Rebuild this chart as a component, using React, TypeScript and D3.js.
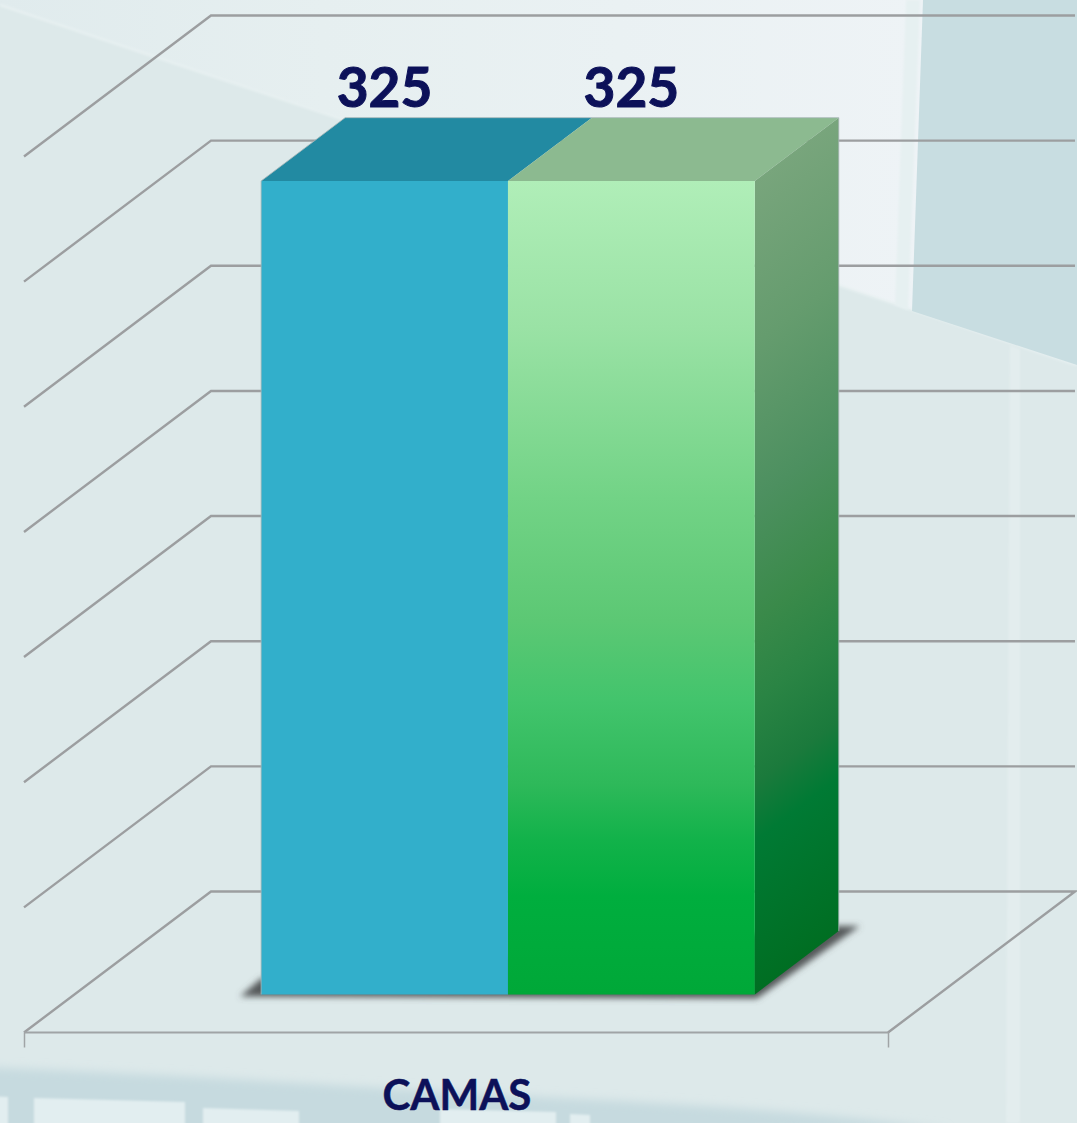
import React from "react";
import * as d3 from "d3";

const categories = ["CAMAS"];
const seriesNames = ["A", "B"];
const seriesValues = [325, 325];
const yTicks = [0, 50, 100, 150, 200, 250, 300, 350];

const width = 1077;
const height = 1123;

// floor corner (front left), the rest of the box hangs off it
const originX = 24;
const originY = 1032.5;
const floorWidth = 864;
const wallHeight = 876;
const depthX = 187;
const depthY = -141;
const barDepthStart = 0.27;
const barDepthEnd = 0.719;

const xCat = d3.scaleBand().domain(categories).range([0, floorWidth]);
const xSeries = d3
  .scaleBand()
  .domain(seriesNames)
  .range([0, xCat.bandwidth()])
  .paddingInner(0)
  .paddingOuter(0.75)
  .align(0.504);
const yScale = d3.scaleLinear().domain([0, 350]).range([0, wallHeight]);

// u along the floor, v is value, d is depth 0..1
const project = (u: number, v: number, d: number): [number, number] => [
  originX + u + d * depthX,
  originY - yScale(v) + d * depthY,
];
const line = d3.line();
const poly = (pts: [number, number][]) => line(pts) + "Z";

const frontStops = [
  [0, "#b0eeb8"],
  [0.18, "#9ae2a5"],
  [0.39, "#72d386"],
  [0.54, "#5cc874"],
  [0.64, "#42c46c"],
  [0.74, "#2eb95a"],
  [0.81, "#12b24a"],
  [0.88, "#00ae3e"],
  [1, "#00a838"],
];
const sideStops = [
  [0, "#78a57c"],
  [0.2, "#659c6e"],
  [0.39, "#4d9060"],
  [0.54, "#3a8a4a"],
  [0.64, "#2a8444"],
  [0.74, "#1b7a3c"],
  [0.81, "#007a34"],
  [1, "#006e22"],
];

// backdrop photo, roughly
const bgLight = "M0,5 L1077,365 L1077,0 L0,0Z";
const bgWindow = "M923,0 L1077,0 L1077,365 L912,311Z";
const bgBand = "M-20,1067 C200,1075 400,1090 600,1100 C750,1108 850,1116 950,1130 L-20,1140Z";
const bgPanes = [
  "M34,1098 L185,1102 L185,1130 L34,1130Z",
  "M203,1108 L299,1111 L299,1130 L203,1130Z",
  "M440,1109 L556,1112 L556,1130 L440,1130Z",
  "M570,1114 L590,1115 L590,1130 L570,1130Z",
  "M-10,1096 L8,1097 L8,1130 L-10,1130Z",
];

export default function App() {
  const wallLines = yTicks.map((t) => {
    const pts: [number, number][] = [
      project(0, t, 0),
      project(0, t, 1),
      project(floorWidth, t, 1),
    ];
    return line(t === 0 ? [pts[0], pts[1], pts[2], project(floorWidth, 0, 0)] : pts) as string;
  });

  const x0 = xCat(categories[0]) as number;
  const bars = seriesNames.map((s, i) => {
    const u0 = x0 + (xSeries(s) as number);
    const u1 = u0 + xSeries.bandwidth();
    const v = seriesValues[i];
    return {
      name: s,
      value: v,
      front: poly([
        project(u0, 0, barDepthStart),
        project(u1, 0, barDepthStart),
        project(u1, v, barDepthStart),
        project(u0, v, barDepthStart),
      ]),
      top: poly([
        project(u0, v, barDepthStart),
        project(u1, v, barDepthStart),
        project(u1, v, barDepthEnd),
        project(u0, v, barDepthEnd),
      ]),
      side: poly([
        project(u1, 0, barDepthStart),
        project(u1, 0, barDepthEnd),
        project(u1, v, barDepthEnd),
        project(u1, v, barDepthStart),
      ]),
      label: project((u0 + u1) / 2, v, barDepthStart),
    };
  });

  const firstU = x0 + (xSeries(seriesNames[0]) as number);
  const lastU = x0 + (xSeries(seriesNames[1]) as number) + xSeries.bandwidth();
  const topV = seriesValues[0];
  const [, frontTopY] = project(firstU, topV, barDepthStart);
  const [frontRight, frontBottomY] = project(lastU, 0, barDepthStart);

  // soft shadow on the floor under the block
  const backRight = project(lastU, 0, barDepthEnd);
  const shadow = poly([
    [project(firstU, 0, barDepthStart)[0] - 21, frontBottomY + 2],
    [frontRight + 2, frontBottomY + 4],
    [backRight[0] + 21, backRight[1] - 5],
    [backRight[0], backRight[1] - 5],
    [project(firstU, 0, barDepthStart)[0], frontBottomY - 16],
  ]);

  // thin pale edge round the block's outline
  const outline = line([
    project(firstU, 0, barDepthStart),
    project(firstU, topV, barDepthStart),
    project(firstU, topV, barDepthEnd),
    project(lastU, topV, barDepthEnd),
    project(lastU, 0, barDepthEnd),
  ]) as string;

  const tickY0 = originY;
  const tickY1 = originY + 15;

  return (
    <>
      <style>{`html,body{margin:0;padding:0;overflow:hidden}svg{display:block}`}</style>
      <svg width={width} height={height} viewBox={`0 0 ${width} ${height}`}>
        <defs>
          <linearGradient id="greenFront" x1="0" y1="0" x2="0" y2="1">
            {frontStops.map(([o, c]) => (
              <stop key={o as number} offset={o as number} stopColor={c as string} />
            ))}
          </linearGradient>
          <linearGradient
            id="greenSide"
            gradientUnits="userSpaceOnUse"
            x1={frontRight}
            y1={frontTopY}
            x2={frontRight + 391}
            y2={frontTopY + 521}
          >
            {sideStops.map(([o, c]) => (
              <stop key={o as number} offset={o as number} stopColor={c as string} />
            ))}
          </linearGradient>
          <linearGradient id="bgTop" x1="0" y1="0" x2="1" y2="0">
            <stop offset="0" stopColor="#e0ebed" />
            <stop offset="0.3" stopColor="#e6eff0" />
            <stop offset="0.85" stopColor="#eef3f6" />
          </linearGradient>
          <filter id="blur1" x="-10%" y="-30%" width="120%" height="160%">
            <feGaussianBlur stdDeviation="1" />
          </filter>
          <filter id="blur2" x="-10%" y="-10%" width="120%" height="120%">
            <feGaussianBlur stdDeviation="3" />
          </filter>
          <filter id="blur6" x="-5%" y="-50%" width="110%" height="200%">
            <feGaussianBlur stdDeviation="5" />
          </filter>
        </defs>

        <rect width={width} height={height} fill="#dde9ea" />
        <path d={bgLight} fill="url(#bgTop)" />
        <path d="M0,5 L1077,365" stroke="#e7f0f1" strokeWidth={2.5} fill="none" filter="url(#blur1)" />
        <path d="M906,0 L920,0 L908,310 L895,305Z" fill="#e6f0f1" filter="url(#blur1)" />
        <path d={bgWindow} fill="#c8dde1" />
        <path d="M1010,345 L1020,349 L1020,1123 L1006,1123Z" fill="#e3edee" filter="url(#blur1)" />
        <path d={bgBand} fill="#c6dadf" filter="url(#blur6)" />
        {bgPanes.map((d, i) => (
          <path key={i} d={d} fill="#e2eef0" filter="url(#blur1)" />
        ))}

        {wallLines.map((d, i) => (
          <path key={yTicks[i]} d={d} fill="none" stroke="#9c9ea0" strokeWidth={2.4} />
        ))}
        <line
          x1={originX}
          y1={originY}
          x2={originX + floorWidth}
          y2={originY}
          stroke="#a0a4a6"
          strokeWidth={2}
        />
        {[0, floorWidth].map((u) => (
          <line
            key={u}
            x1={originX + u + 0.5}
            x2={originX + u + 0.5}
            y1={tickY0}
            y2={tickY1}
            stroke="#a0a4a6"
            strokeWidth={1.5}
          />
        ))}

        <path d={shadow} fill="#55585a" filter="url(#blur2)" />

        {bars.map((b, i) => (
          <g key={b.name}>
            <path d={b.top} fill={i === 0 ? "#228aa2" : "#8cba90"} />
            {i === bars.length - 1 && <path d={b.side} fill="url(#greenSide)" />}
          </g>
        ))}
        {bars.map((b, i) => (
          <path key={b.name} d={b.front} fill={i === 0 ? "#32afcb" : "url(#greenFront)"} />
        ))}
        <path d={outline} fill="none" stroke="#a9b6b8" strokeWidth={1} strokeOpacity={0.8} />

        {bars.map((b) => (
          <text
            key={b.name}
            x={b.label[0]}
            y={b.label[1] - 74}
            textAnchor="middle"
            fontFamily="Lato"
            fontWeight={700}
            fontSize={55}
            fill="#0c1159"
            stroke="#0c1159"
            strokeWidth={1}
          >
            {b.value}
          </text>
        ))}
        <text
          x={originX + (xCat(categories[0]) as number) + xCat.bandwidth() / 2 + 1}
          y={1110}
          textAnchor="middle"
          fontFamily="Lato"
          fontWeight={700}
          fontSize={42}
          fill="#0c1159"
          stroke="#0c1159"
          strokeWidth={0.5}
        >
          {categories[0]}
        </text>
      </svg>
    </>
  );
}
